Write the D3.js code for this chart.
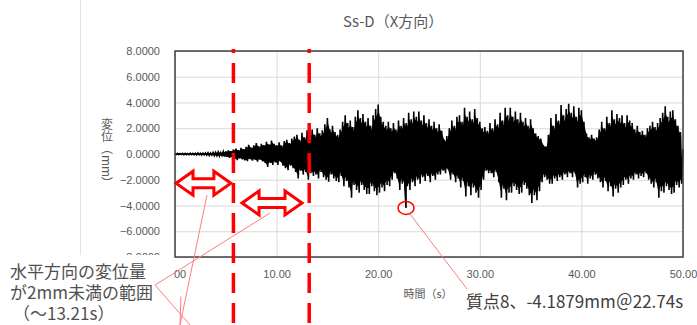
<!DOCTYPE html>
<html lang="ja">
<head>
  <meta charset="UTF-8">
  <title>Ss-D（X方向）</title>
  <script src="https://d3js.org/d3.v7.min.js"></script>
  <style>
    body { margin: 0; background: #fff; }
    svg { display: block; font-family: "Noto Sans CJK JP", "Noto Sans", sans-serif; }
    .grid line { stroke: #d9d9d9; }
    .axis text { fill: #595959; font-size: 11px; }
  </style>
</head>
<body>
<svg width="697" height="325"></svg>
<script>
  // 時間軸の目盛り・変位軸の目盛り
  const xTicks = [0, 10, 20, 30, 40, 50];
  const yTicks = [-8, -6, -4, -2, 0, 2, 4, 6, 8];

  // 波形の上側ピーク (t = 0, 0.25, 0.5 ... 秒)
  const upper = [
    0.04,0.05,0.03,0.05, 0.05,0.04,0.06,0.05, 0.06,0.08,0.05,0.07, 0.08,0.1,0.07,0.12, 0.12,0.15,0.11,0.18,
    0.2,0.28,0.22,0.35, 0.42,0.3,0.48,0.38, 0.55,0.72,0.5,0.68, 0.85,0.6,0.8,0.7, 0.95,0.75,1.05,0.8,
    0.7,0.9,0.65,1.0, 1.1,0.85,1.2,1.35, 1.5,1.1,1.65,1.3, 1.85,1.4,1.9,1.5, 2.0,1.6,1.85,2.3,
    2.8,1.9,2.2,1.7, 1.5,1.9,2.5,3.0, 2.4,2.6,2.1,2.9, 3.4,2.8,3.1,2.5, 2.8,2.2,3.0,3.5,
    3.85,2.9,2.5,2.2, 2.5,2.0,2.4,1.9, 2.6,2.2,2.8,2.4, 3.2,2.7,3.3,2.9, 3.3,2.6,3.0,2.4,
    2.7,2.2,2.5,2.0, 2.3,1.8,1.1,1.4, 2.0,2.6,2.2,2.9, 3.0,2.5,3.6,2.9, 3.3,2.7,3.5,2.8,
    2.5,2.0,2.1,1.8, 2.4,2.0,2.7,2.3, 3.2,2.6,3.6,3.0, 3.6,2.9,3.3,2.7, 3.2,2.5,2.8,2.2,
    2.7,2.0,1.6,1.4, 1.2,0.7,0.6,1.5, 2.8,2.2,3.1,2.6, 3.8,3.0,3.5,3.9, 3.2,3.7,2.9,3.6,
    3.4,2.5,1.6,1.3, 1.5,1.2,1.3,1.9, 2.5,2.0,2.9,2.4, 3.4,2.7,3.1,2.8, 3.0,2.4,3.0,2.6,
    2.4,1.9,2.2,1.7, 1.8,1.5,2.0,2.2, 2.5,2.1,2.4,2.8, 3.2,3.7,2.9,3.3, 3.4,2.7,2.2,1.7
  ];
  // 波形の下側ピーク (t = 0.125, 0.375 ... 秒)
  const lower = [
    -0.04,-0.05,-0.04,-0.06, -0.05,-0.06,-0.05,-0.06, -0.07,-0.06,-0.08,-0.07, -0.09,-0.11,-0.08,-0.12, -0.13,-0.16,-0.12,-0.2,
    -0.22,-0.3,-0.25,-0.38, -0.47,-0.35,-0.42,-0.5, -0.55,-0.4,-0.52,-0.45, -0.6,-0.45,-0.58,-0.7, -1.0,-0.7,-0.85,-0.65,
    -0.85,-0.6,-0.9,-1.1, -1.25,-0.9,-1.1,-1.4, -1.9,-1.3,-1.6,-1.4, -2.0,-1.5,-1.7,-1.6, -1.9,-1.4,-1.8,-2.0,
    -2.15,-1.6,-1.9,-2.1, -2.2,-1.7,-2.5,-2.1, -2.6,-3.4,-2.4,-2.8, -3.0,-2.4,-2.8,-3.1, -3.1,-2.5,-2.9,-3.2,
    -3.0,-2.6,-2.9,-2.4, -2.5,-2.0,-1.5,-1.9, -2.8,-2.3,-2.6,-2.5, -2.8,-2.2,-2.5,-2.0, -2.3,-1.8,-2.1,-1.7,
    -2.2,-1.7,-2.0,-1.6, -1.6,-1.3,-1.5,-1.2, -2.0,-1.6,-2.2,-1.9, -2.6,-2.1,-3.3,-2.5, -3.2,-2.6,-3.0,-3.4,
    -2.8,-2.0,-1.3,-1.5, -1.5,-1.8,-1.4,-2.2, -3.4,-2.7,-3.6,-3.0, -3.0,-2.5,-2.8,-3.1, -3.0,-2.4,-2.7,-3.2,
    -3.8,-3.2,-3.6,-2.9, -2.2,-1.8,-2.0,-2.3, -2.3,-1.9,-2.1,-1.8, -2.0,-1.6,-1.8,-1.5, -1.8,-1.5,-2.6,-2.3,
    -2.2,-1.8,-2.3,-1.9, -2.0,-1.6,-1.9,-2.2, -2.6,-2.1,-2.9,-2.5, -3.3,-2.7,-3.0,-2.6, -2.4,-2.0,-2.3,-1.9,
    -2.0,-1.6,-1.9,-1.7, -1.8,-1.5,-2.0,-2.3, -2.6,-2.2,-3.4,-2.9, -3.0,-2.5,-2.8,-3.1, -3.0,-2.4,-2.6,-2.3
  ];
  const dt = 0.25;
  const peak = { t: 22.74, v: -4.1879 };   // 最大変位点
  const markTimes = [5.75, 13.21];          // 赤破線
  const arrows = [ { t0: 0.1, t1: 5.5, v: -2.27 }, { t0: 6.6, t1: 12.5, v: -3.8 } ];

  const svg = d3.select("svg");
  const x = d3.scaleLinear().domain([0, 50]).range([175, 683]);
  const y = d3.scaleLinear().domain([-8, 8]).range([257, 51]);

  // 波形データ作成
  let series = [];
  upper.forEach((v, i) => {
    series.push({ t: i * dt, v: v });
    series.push({ t: i * dt + dt / 2, v: lower[i] });
  });
  series.push({ t: 50, v: 0.4 });
  series.push(peak);
  series.sort((a, b) => a.t - b.t);

  const band = upper.map((v, i) => ({ t: i * dt + dt / 4, hi: v, lo: lower[i] }));

  // チャート枠の薄い線
  svg.append("line").attr("x1", 80.5).attr("x2", 80.5).attr("y1", 0).attr("y2", 325)
    .attr("stroke", "#e3e3e3");

  // グリッド
  svg.append("g").attr("class", "grid")
    .attr("transform", `translate(${x(0)},0)`)
    .call(d3.axisLeft(y).tickValues(yTicks).tickSize(-(x(50) - x(0))).tickFormat(""))
    .call(g => g.select(".domain").remove());
  svg.append("g").attr("class", "grid")
    .attr("transform", `translate(0,${y(-8)})`)
    .call(d3.axisBottom(x).tickValues(xTicks).tickSize(-(y(-8) - y(8))).tickFormat(""))
    .call(g => g.select(".domain").remove());

  // 軸ラベル
  svg.append("g").attr("class", "axis")
    .attr("transform", `translate(${x(0)},0)`)
    .call(d3.axisLeft(y).tickValues(yTicks).tickSize(0).tickPadding(15).tickFormat(d3.format(".4f")))
    .call(g => g.select(".domain").remove());
  svg.append("g").attr("class", "axis")
    .attr("transform", `translate(0,${y(-8)})`)
    .call(d3.axisBottom(x).tickValues(xTicks).tickSize(0).tickPadding(13).tickFormat(d3.format(".2f")))
    .call(g => g.select(".domain").remove());

  // 波形（塗りつぶし帯＋線）
  const area = d3.area().x(d => x(d.t)).y0(d => y(d.lo * 0.85)).y1(d => y(d.hi * 0.85));
  svg.append("path").datum(band)
    .attr("d", area)
    .attr("fill", "#000");
  const line = d3.line().x(d => x(d.t)).y(d => y(d.v));
  svg.append("path").datum(series)
    .attr("d", line)
    .attr("fill", "none")
    .attr("stroke", "#000")
    .attr("stroke-width", 1.6);

  // プロット枠
  svg.append("rect")
    .attr("x", x(0)).attr("y", y(8))
    .attr("width", x(50) - x(0)).attr("height", y(-8) - y(8))
    .attr("fill", "none").attr("stroke", "#404040").attr("stroke-width", 1.5);

  // タイトル
  svg.append("text").attr("x", 343).attr("y", 27)
    .attr("fill", "#595959").style("font-size", "15px")
    .text("Ss-D（X方向）");

  svg.append("text").attr("x", 428).attr("y", 298)
    .attr("text-anchor", "middle").attr("fill", "#595959").style("font-size", "11px")
    .text("時間（s）");

  svg.append("text").attr("x", 107).attr("y", 154)
    .attr("text-anchor", "middle").attr("fill", "#595959").style("font-size", "12px")
    .style("writing-mode", "vertical-rl").style("text-orientation", "mixed")
    .text("変位（mm）");

  // 赤破線
  svg.selectAll("line.mark").data(markTimes).join("line")
    .attr("class", "mark")
    .attr("x1", d => x(d)).attr("x2", d => x(d))
    .attr("y1", 49).attr("y2", 325)
    .attr("stroke", "#ff0000").attr("stroke-width", 3.5)
    .attr("stroke-dasharray", "20 10")
    .attr("stroke-dashoffset", 16);

  // 両矢印
  const hl = 17, hh = 12, sh = 4.5;
  svg.selectAll("path.arrow").data(arrows).join("path")
    .attr("class", "arrow")
    .attr("d", d => {
      const a = x(d.t0), b = x(d.t1), c = y(d.v);
      return `M${a},${c} L${a + hl},${c - hh} L${a + hl},${c - sh} L${b - hl},${c - sh} L${b - hl},${c - hh}
              L${b},${c} L${b - hl},${c + hh} L${b - hl},${c + sh} L${a + hl},${c + sh} L${a + hl},${c + hh} Z`;
    })
    .attr("fill", "#fff").attr("stroke", "#ff0000").attr("stroke-width", 3)
    .attr("stroke-linejoin", "miter");

  // 引き出し線
  const leader = "#ff7c80";
  const leaders = [
    [410, 214, 467, 289],
    [155, 285, 270, 213],
    [207, 195, 180, 325]
  ];
  svg.selectAll("line.leader").data(leaders).join("line")
    .attr("class", "leader")
    .attr("x1", d => d[0]).attr("y1", d => d[1]).attr("x2", d => d[2]).attr("y2", d => d[3])
    .attr("stroke", leader).attr("stroke-width", 1);

  // 最大点の丸
  svg.append("ellipse")
    .attr("cx", x(peak.t)).attr("cy", y(peak.v))
    .attr("rx", 8).attr("ry", 6.5)
    .attr("fill", "none").attr("stroke", "#ff0000").attr("stroke-width", 1.5);

  // 注記テキストボックス
  svg.append("rect").attr("x", 0).attr("y", 255).attr("width", 174).attr("height", 70).attr("fill", "#fff");
  svg.append("line").attr("x1", 155).attr("y1", 285).attr("x2", 190).attr("y2", 325)
    .attr("stroke", leader).attr("stroke-width", 1);
  svg.append("line").attr("x1", 155).attr("y1", 285).attr("x2", 174).attr("y2", 273.2)
    .attr("stroke", leader).attr("stroke-width", 1);
  svg.append("line").attr("x1", 180.9).attr("y1", 296.5).attr("x2", 180).attr("y2", 325)
    .attr("stroke", leader).attr("stroke-width", 1);
  const notes = ["水平方向の変位量", "が2mm未満の範囲", "（～13.21s）"];
  svg.selectAll("text.note").data(notes).join("text")
    .attr("class", "note")
    .attr("x", (d, i) => i === 2 ? 13 : 10)
    .attr("y", (d, i) => 278 + i * 21)
    .attr("fill", "#505050").style("font-size", "17px")
    .text(d => d);

  svg.append("text").attr("x", 466).attr("y", 308)
    .attr("fill", "#404040").style("font-size", "17px")
    .text("質点8、-4.1879mm＠22.74s");
</script>
</body>
</html>
